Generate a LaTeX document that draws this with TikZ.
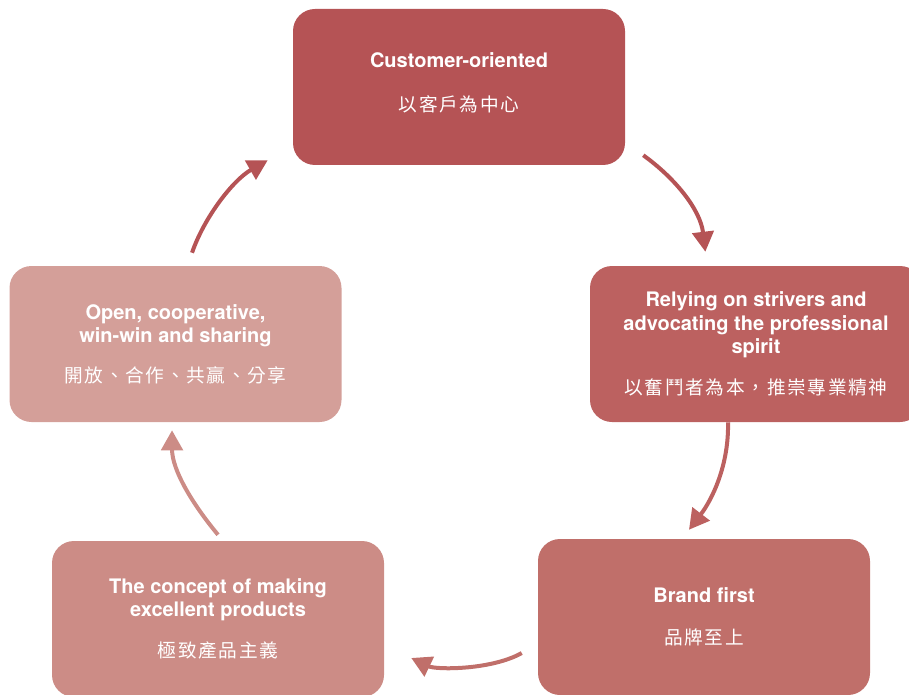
\documentclass[tikz,border=0pt]{standalone}
\usepackage{fontspec}
\setmainfont{TeX Gyre Heros}
\newfontfamily\cjk[LetterSpace=9]{Noto Sans CJK TC}
\usetikzlibrary{arrows.meta}
\definecolor{custfill}{RGB}{181,83,85}
\definecolor{strivfill}{RGB}{188,97,96}
\definecolor{brandfill}{RGB}{192,111,106}
\definecolor{conceptfill}{RGB}{204,140,134}
\definecolor{openfill}{RGB}{212,159,153}
\tikzset{
  valuebox/.style={rounded corners=16.5pt, minimum width=249pt, minimum height=117pt, text=white, align=center, inner sep=0pt, font=\fontsize{15}{17.6}\selectfont\bfseries},
  cyclearrow/.style={-{Triangle[length=15pt, width=16pt]}, line width=3pt},
}
\newcommand{\zh}[1]{{\cjk\mdseries\fontsize{14}{16}\selectfont #1}}

\begin{document}
\begin{tikzpicture}[x=0.75pt, y=-0.75pt]
  \useasboundingbox (0,0) rectangle (909,695);
  \clip (0,0) rectangle (909,695);

  % --- Values ---
  \node[valuebox, fill=custfill] (cust) at (459,87) {Customer-oriented\\[15pt]\zh{以客戶為中心}\\[-10pt]};
  \node[valuebox, fill=strivfill] (striv) at (756,344) {Relying on strivers and\\advocating the professional\\spirit\\[13pt]\zh{以奮鬥者為本，推崇專業精神}};
  \node[valuebox, fill=brandfill] (brand) at (704,617) {Brand first\\[14pt]\zh{品牌至上}};
  \node[valuebox, fill=conceptfill] (concept) at (218,619) {The concept of making\\excellent products\\[13pt]\zh{極致產品主義}};
  \node[valuebox, fill=openfill] (open) at (175.5,344) {Open, cooperative,\\win-win and sharing\\[12pt]\zh{開放、合作、共贏、分享}};

  % --- Cycle ---
  \draw[cyclearrow, custfill] ([xshift=13.5pt, yshift=7.5pt]cust.south east) .. controls +(32,23) and +(-5,-42) .. ([xshift=-38pt, yshift=10.5pt]striv.north);
  \draw[cyclearrow, strivfill] ([xshift=-21pt]striv.south) .. controls +(1,43) and +(23,-30) .. ([xshift=-11.25pt, yshift=6.75pt]brand.north);
  \draw[cyclearrow, brandfill] ([xshift=-12pt, yshift=-27pt]brand.west) .. controls +(-30,17) and +(25,12) .. ([xshift=20.25pt, yshift=-29.25pt]concept.east);
  \draw[cyclearrow, conceptfill] ([yshift=4.5pt]concept.north) .. controls +(-25,-30) and +(0,40) .. ([xshift=-2.6pt, yshift=-6pt]open.south);
  \draw[cyclearrow, custfill] ([xshift=12.4pt, yshift=9.75pt]open.north) .. controls +(12,-35) and +(-35,20) .. ([xshift=-18.75pt, yshift=3.75pt]cust.south west);

\end{tikzpicture}
\end{document}
